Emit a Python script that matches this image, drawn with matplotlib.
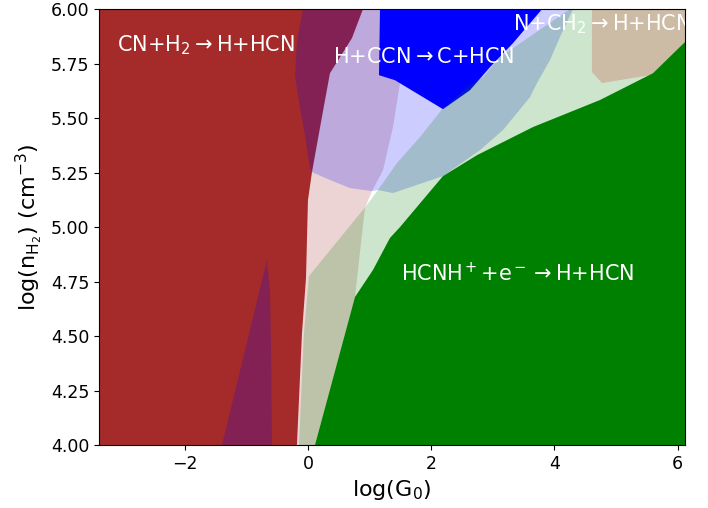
import numpy as np
import matplotlib.pyplot as plt

# region outlines, log(G0) vs log(n_H2)
brown_x = [-3.39, -0.179, -0.097, -0.032, 0.0, 0.065, 0.244, 0.357, 0.714, 0.893, -3.39]
brown_y = [4.0, 4.0, 4.514, 4.766, 5.124, 5.252, 5.532, 5.706, 5.867, 6.0, 6.0]

brown_a_x = [-3.39, 0.114, 0.763, 0.812, 0.925, 1.039, 1.218, 1.380, 1.494, 1.331, -3.39]
brown_a_y = [4.0, 4.0, 4.679, 4.803, 5.087, 5.165, 5.261, 5.459, 5.661, 6.0, 6.0]

blue_a_x = [-0.081, -0.179, -0.211, -0.130, -0.049, 0.032, 0.065, 0.357, 0.682, 1.039, 1.136,
            1.380, 2.192, 2.792, 3.166, 3.604, 3.718, 3.929, 4.091, 4.302]
blue_a_y = [6.0, 5.853, 5.697, 5.546, 5.422, 5.271, 5.252, 5.216, 5.179, 5.165, 5.170,
            5.156, 5.234, 5.353, 5.445, 5.596, 5.661, 5.766, 5.872, 6.0]

spike_x = [-1.396, -0.666, -0.617, -0.601, -0.584]
spike_y = [4.0, 4.849, 4.711, 4.482, 4.0]

blue_x = [1.169, 1.153, 1.412, 2.192, 2.630, 2.955, 3.328, 3.80]
blue_y = [6.0, 5.697, 5.674, 5.541, 5.628, 5.734, 5.844, 6.0]

green_a_x = [-0.146, -0.065, 0.016, 0.942, 1.136, 1.445, 1.818, 2.192, 2.597, 2.857, 3.117, 4.253, 6.12, 6.12]
green_a_y = [4.0, 4.514, 4.775, 5.096, 5.170, 5.294, 5.413, 5.546, 5.642, 5.693, 5.780, 6.0, 6.0, 4.0]

tan_x = [4.610, 4.610, 4.773, 5.552, 5.70, 6.12, 6.12]
tan_y = [6.0, 5.711, 5.661, 5.697, 5.69, 5.849, 6.0]

green_x = [0.114, 0.763, 1.055, 1.331, 1.494, 2.192, 2.744, 3.653, 4.740, 5.601, 6.12, 6.12]
green_y = [4.0, 4.679, 4.803, 4.950, 5.0, 5.234, 5.330, 5.459, 5.583, 5.706, 5.849, 4.0]

fig = plt.figure(figsize=(7.08, 5.08), dpi=100)
ax = fig.add_axes([0.14, 0.124, 0.8275, 0.858])

ax.fill(brown_x, brown_y, color='brown', lw=0)
ax.fill(brown_a_x, brown_a_y, color='brown', alpha=0.2, lw=0)
ax.fill(blue_a_x, blue_a_y, color='blue', alpha=0.2, lw=0)
ax.fill(spike_x, spike_y, color='blue', alpha=0.2, lw=0)
ax.fill(blue_x, blue_y, color='blue', lw=0)
ax.fill(green_a_x, green_a_y, color='green', alpha=0.2, lw=0)
ax.fill(tan_x, tan_y, color='#ccbba5', lw=0)
ax.fill(green_x, green_y, color='green', lw=0)

fs = 15
ax.text(-3.10, 5.835, r'CN+H$_2\rightarrow$H+HCN', color='white', fontsize=fs, va='center', clip_on=True)
ax.text(0.406, 5.78, r'H+CCN$\rightarrow$C+HCN', color='white', fontsize=fs, va='center', clip_on=True)
ax.text(3.328, 5.93, r'N+CH$_2\rightarrow$H+HCN', color='white', fontsize=fs, va='center', clip_on=True)
ax.text(1.51, 4.789, r'HCNH$^+$+e$^-\rightarrow$H+HCN', color='white', fontsize=fs, va='center', clip_on=True)

ax.set_xlim(-3.39, 6.12)
ax.set_ylim(4.0, 6.0)
ax.set_xticks([-2, 0, 2, 4, 6])
ax.set_yticks(np.arange(4.0, 6.01, 0.25))
ax.yaxis.set_major_formatter(plt.FormatStrFormatter('%.2f'))
ax.tick_params(labelsize=12.5)
ax.set_xlabel(r'log(G$_0$)', fontsize=16)
ax.set_ylabel(r'log(n$_{\rm H_2}$) (cm$^{-3}$)', fontsize=16)

fig.savefig('out.png', dpi=100)
